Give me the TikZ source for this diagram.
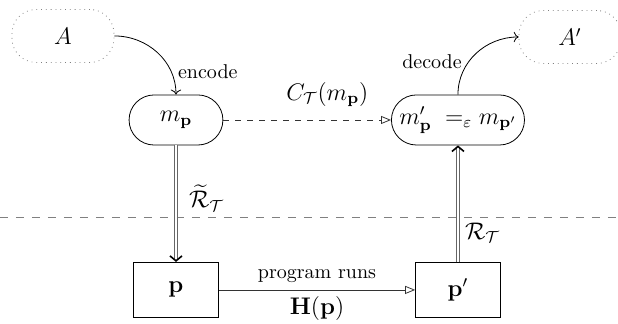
\documentclass[tikz,border=0pt]{standalone}
\usepackage{amsmath,amssymb}
\usetikzlibrary{arrows.meta,shapes.misc}
\tikzset{
	bigmath/.style={font=\fontsize{11.5}{14}\selectfont},
	outer/.style={draw=gray,dotted,rounded corners=12pt,minimum width=1.79cm,minimum height=0.93cm,bigmath},
	msg/.style={draw,rounded rectangle,minimum width=1.79cm,minimum height=0.88cm,inner xsep=2pt,bigmath},
	prog/.style={draw,minimum width=1.49cm,minimum height=0.97cm,bigmath},
	refine/.style={double=white,draw=gray!80!black,double distance=1.2pt,-{Straight Barb[length=2.5pt,width=6pt,line width=0.8pt,black]}},
	opentip/.style={-{Triangle[open,length=5pt,width=4pt]}},
}
\begin{document}
\begin{tikzpicture}
	\useasboundingbox (0,0) rectangle (10.862,5.694);
	\node[outer] (A) at (1.107,5.062) {$A$};
	\node[outer] (Ap) at (10.018,5.044) {$A'$};
	\node[msg] (m) at (3.093,3.585) {$m_{\mathbf{p}}$};
	\node[msg,minimum width=2.30cm] (mp) at (8.049,3.585) {$m'_{\mathbf{p}}\;=_{\varepsilon} m_{\mathbf{p}'}$};
	\node[prog] (p) at (3.093,0.598) {$\mathbf{p}$};
	\node[prog] (pp) at (8.049,0.598) {$\mathbf{p}'$};
	\coordinate (left) at (0,1.881);
	\coordinate (right) at (10.862,1.881);
	\draw [gray,dashed,dash pattern=on 4pt off 4pt] (left) -- (right);
	\draw [->] (A.east) to[out=0,in=90] node[right,pos=0.75] {encode} (m.north);
	\draw [->] (mp.north) to[out=90,in=180] node[left,pos=0.38] {decode} (Ap.west);
	\draw [dashed,gray!40!black,opentip] (m.east) -- node[above=3pt,pos=0.62,bigmath,black] {$C_{\mathcal{T}}(m_{\mathbf{p}})$} (mp.west);
	\draw [refine] (m.south) -- node[right=3pt,pos=0.45,bigmath] {$\widetilde{\mathcal{R}}_{\mathcal{T}}$} (p.north);
	\draw [refine] (pp.north) -- node[right,pos=0.25,bigmath] {$\mathcal{R}_{\mathcal{T}}$} (mp.south);
	\draw [opentip,gray!40!black] (p.east) -- node[above,black] {program runs} node[below,black,bigmath] {$\mathbf{H}(\mathbf{p})$} (pp.west);
\end{tikzpicture}
\end{document}
